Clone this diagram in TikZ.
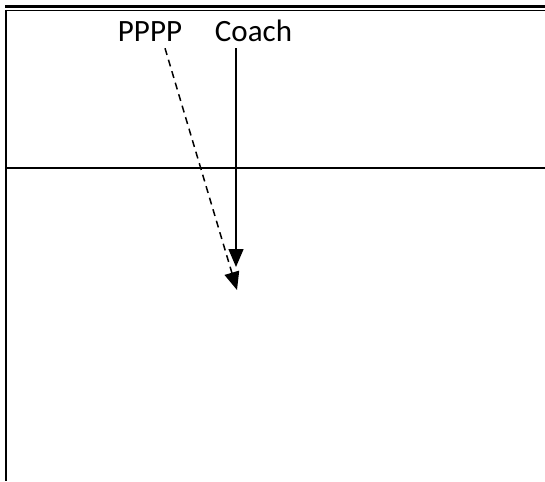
\documentclass[tikz,border=0pt]{standalone}
\usepackage{fontspec}
\setmainfont{Carlito}
\usetikzlibrary{arrows.meta}
\tikzstyle{role}=[inner sep=6pt,anchor=base,font=\fontsize{31}{37}\selectfont]
\tikzstyle{rule} = [draw,line width=2pt,-]
\tikzstyle{heavy rule} = [draw,line width=3pt,-]
\tikzstyle{thin rule} = [draw,line width=1.5pt,-]
\tikzstyle{move} = [draw,line width=1.5pt,-{Triangle[length=18pt,width=15pt]}]
\tikzstyle{planned move} = [move, dash pattern=on 7pt off 5pt]

\begin{document}
\begin{tikzpicture}[x=1pt,y=-1pt]
    \useasboundingbox (0,0) rectangle (545,481);
    % frame
    \path[heavy rule] (5,6.5) -- (545,6.5);
    \path[thin rule] (5,10.5) -- (545,10.5);
    \path[rule] (6,10) -- (6,481);
    \path[rule] (6,168) -- (545,168);

    \node[role] (pppp) at (150,42) {PPPP};
    \node[role] (coach) at (253.5,42) {Coach};

    \coordinate (coachend) at (236,267);
    \coordinate (ppppend) at (237,290);

    \path[move] (coach.south -| coachend) -- (coachend);
    \path[planned move] ([xshift=15pt]pppp.south) -- (ppppend);
\end{tikzpicture}
\end{document}
